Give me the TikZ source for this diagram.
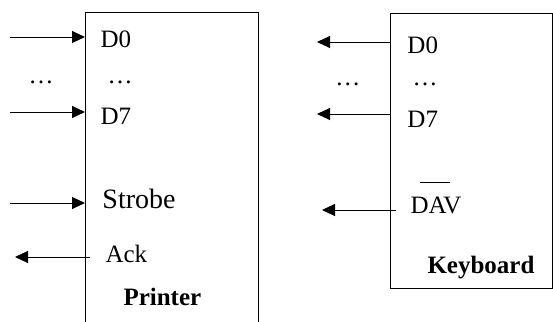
\documentclass[tikz,border=0pt]{standalone}
\usepackage{fontspec}
\setmainfont{Liberation Serif}
\usetikzlibrary{arrows.meta}
\begin{document}
\begin{tikzpicture}[x=0.5pt,y=-0.5pt,line width=0.5pt,
        font=\fontsize{12.5}{15}\selectfont,
        pin/.style={anchor=base west,inner sep=0pt},
        title/.style={pin,font=\fontsize{12.5}{15}\selectfont\bfseries},
        sig/.style={-{Triangle[length=6.5pt,width=6pt]}}]
        \useasboundingbox (0,0) rectangle (553,322);
        % printer, box runs off the bottom
        \draw (85,322) -- (85,12) -- (258,12) -- (258,322);
        \draw (100,47) node[pin](pd0){D0};
        \draw (107,83) node[pin](pdots){…};
        \draw (100,124) node[pin](pd7){D7};
        \draw (102,208) node[pin,font=\fontsize{14}{16}\selectfont](pstb){Strobe};
        \draw (105,262) node[pin](pack){Ack};
        \draw (123,305) node[title](prn){Printer};
        \draw (28,83) node[pin](ldots){…};
        \coordinate (a0) at (10,37);   \coordinate (p0) at (85,37);
        \coordinate (a7) at (10,112);  \coordinate (p7) at (85,112);
        \coordinate (as) at (10,203);  \coordinate (ps) at (85,203);
        \coordinate (ak) at (15,257);  \coordinate (pk) at (90,257);
        \draw[sig] (a0) -- (p0);
        \draw[sig] (a7) -- (p7);
        \draw[sig] (as) -- (ps);
        \draw[sig] (pk) -- (ak);
        % keyboard
        \draw (390,13) rectangle (552,288);
        \draw (407,53) node[pin](kd0){D0};
        \draw (412,85) node[pin](kdots){…};
        \draw (407,127) node[pin](kd7){D7};
        \draw (410,213) node[pin](kdav){DAV};
        \draw (420,182) -- (450,182);
        \draw (427,273) node[title](kbd){Keyboard};
        \draw (335,85) node[pin](rdots){…};
        \coordinate (b0) at (317,42);  \coordinate (k0) at (390,42);
        \coordinate (b7) at (317,114); \coordinate (k7) at (390,114);
        \coordinate (bd) at (322,210); \coordinate (kd) at (396,210);
        \draw[sig] (k0) -- (b0);
        \draw[sig] (k7) -- (b7);
        \draw[sig] (kd) -- (bd);
\end{tikzpicture}
\end{document}
